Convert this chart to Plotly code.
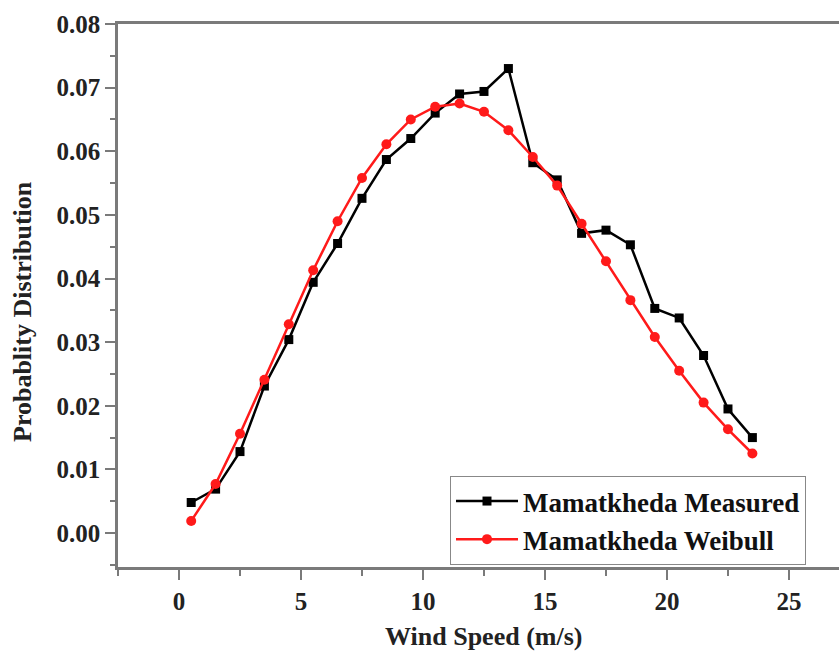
import plotly.graph_objects as go

wind_speed = [0.5, 1.5, 2.5, 3.5, 4.5, 5.5, 6.5, 7.5, 8.5, 9.5, 10.5, 11.5,
              12.5, 13.5, 14.5, 15.5, 16.5, 17.5, 18.5, 19.5, 20.5, 21.5, 22.5, 23.5]
measured = [0.0048, 0.0069, 0.0128, 0.0231, 0.0304, 0.0394, 0.0455, 0.0526, 0.0587, 0.0620,
            0.0660, 0.0690, 0.0694, 0.0730, 0.0582, 0.0555, 0.0471, 0.0476, 0.0453, 0.0353,
            0.0338, 0.0279, 0.0195, 0.0150]
weibull = [0.0019, 0.0077, 0.0156, 0.0241, 0.0328, 0.0413, 0.0490, 0.0558, 0.0611, 0.0650,
           0.0670, 0.0675, 0.0662, 0.0633, 0.0591, 0.0546, 0.0486, 0.0427, 0.0366, 0.0308,
           0.0255, 0.0205, 0.0163, 0.0125]
x_ticks = [0, 5, 10, 15, 20, 25]
y_ticks = [0.00, 0.01, 0.02, 0.03, 0.04, 0.05, 0.06, 0.07, 0.08]
series_names = ["Mamatkheda Measured", "Mamatkheda Weibull"]

FONT = "Liberation Serif"
AXC = "#7a7a7a"
W, H = 839, 660
L, R, T, B = 118, 0, 24, 93
pw, ph = W - L - R, H - T - B


def px_to_paper(px, py):
    return (px - L) / pw, (H - B - py) / ph


fig = go.Figure()
fig.add_trace(go.Scatter(x=wind_speed, y=measured, mode="lines+markers", name=series_names[0],
                         line=dict(color="black", width=2.5),
                         marker=dict(symbol="square", size=9, color="black")))
fig.add_trace(go.Scatter(x=wind_speed, y=weibull, mode="lines+markers", name=series_names[1],
                         line=dict(color="#ff1a1a", width=2.5),
                         marker=dict(symbol="circle", size=10, color="#ff1a1a")))

lx, ly = px_to_paper(450, 476)
xt_x, xt_y = px_to_paper(483, 637)
yt_x, yt_y = px_to_paper(22, 312)

fig.update_layout(
    width=W, height=H,
    margin=dict(l=L, r=R, t=T, b=B),
    paper_bgcolor="white", plot_bgcolor="white",
    font=dict(family=FONT, size=22, color="#222"),
    showlegend=True,
    legend=dict(x=lx, y=ly, xanchor="left", yanchor="top",
                bordercolor="#888", borderwidth=1, bgcolor="white",
                font=dict(family=FONT, size=27, color="#111", weight="bold"),
                tracegroupgap=0, itemwidth=62),
    xaxis=dict(range=[-2.5, 27.05], tickvals=x_ticks, ticktext=[str(v) for v in x_ticks],
               showgrid=False, zeroline=False, showline=True, linecolor=AXC, linewidth=2.5,
               mirror=True, ticks="outside", ticklen=10, tickwidth=2, tickcolor=AXC,
               minor=dict(ticks="outside", ticklen=6, tickwidth=2, tickcolor=AXC, dtick=2.5, tick0=0),
               tickfont=dict(family=FONT, size=25, color="#222", weight="bold")),
    yaxis=dict(range=[-0.00534, 0.08], tickvals=y_ticks, ticktext=[f"{v:.2f}" for v in y_ticks],
               showgrid=False, zeroline=False, showline=True, linecolor=AXC, linewidth=2.5,
               ticks="outside", ticklen=10, tickwidth=2, tickcolor=AXC,
               minor=dict(ticks="outside", ticklen=5, tickwidth=2, tickcolor=AXC, dtick=0.005, tick0=0),
               tickfont=dict(family=FONT, size=25, color="#222", weight="bold")),
    annotations=[
        dict(text="<b>Wind Speed (m/s)</b>", x=xt_x, y=xt_y, xref="paper", yref="paper",
             xanchor="center", yanchor="middle",
             showarrow=False, font=dict(family=FONT, size=26, color="#222")),
        dict(text="<b>Probablity Distribution</b>", x=yt_x, y=yt_y, xref="paper", yref="paper",
             xanchor="center", yanchor="middle", textangle=-90,
             showarrow=False, font=dict(family=FONT, size=26, color="#222")),
    ],
)

fig.write_html("out.html", config={"displayModeBar": False},
               post_script="document.body.style.margin='0';document.body.style.overflow='hidden';")
